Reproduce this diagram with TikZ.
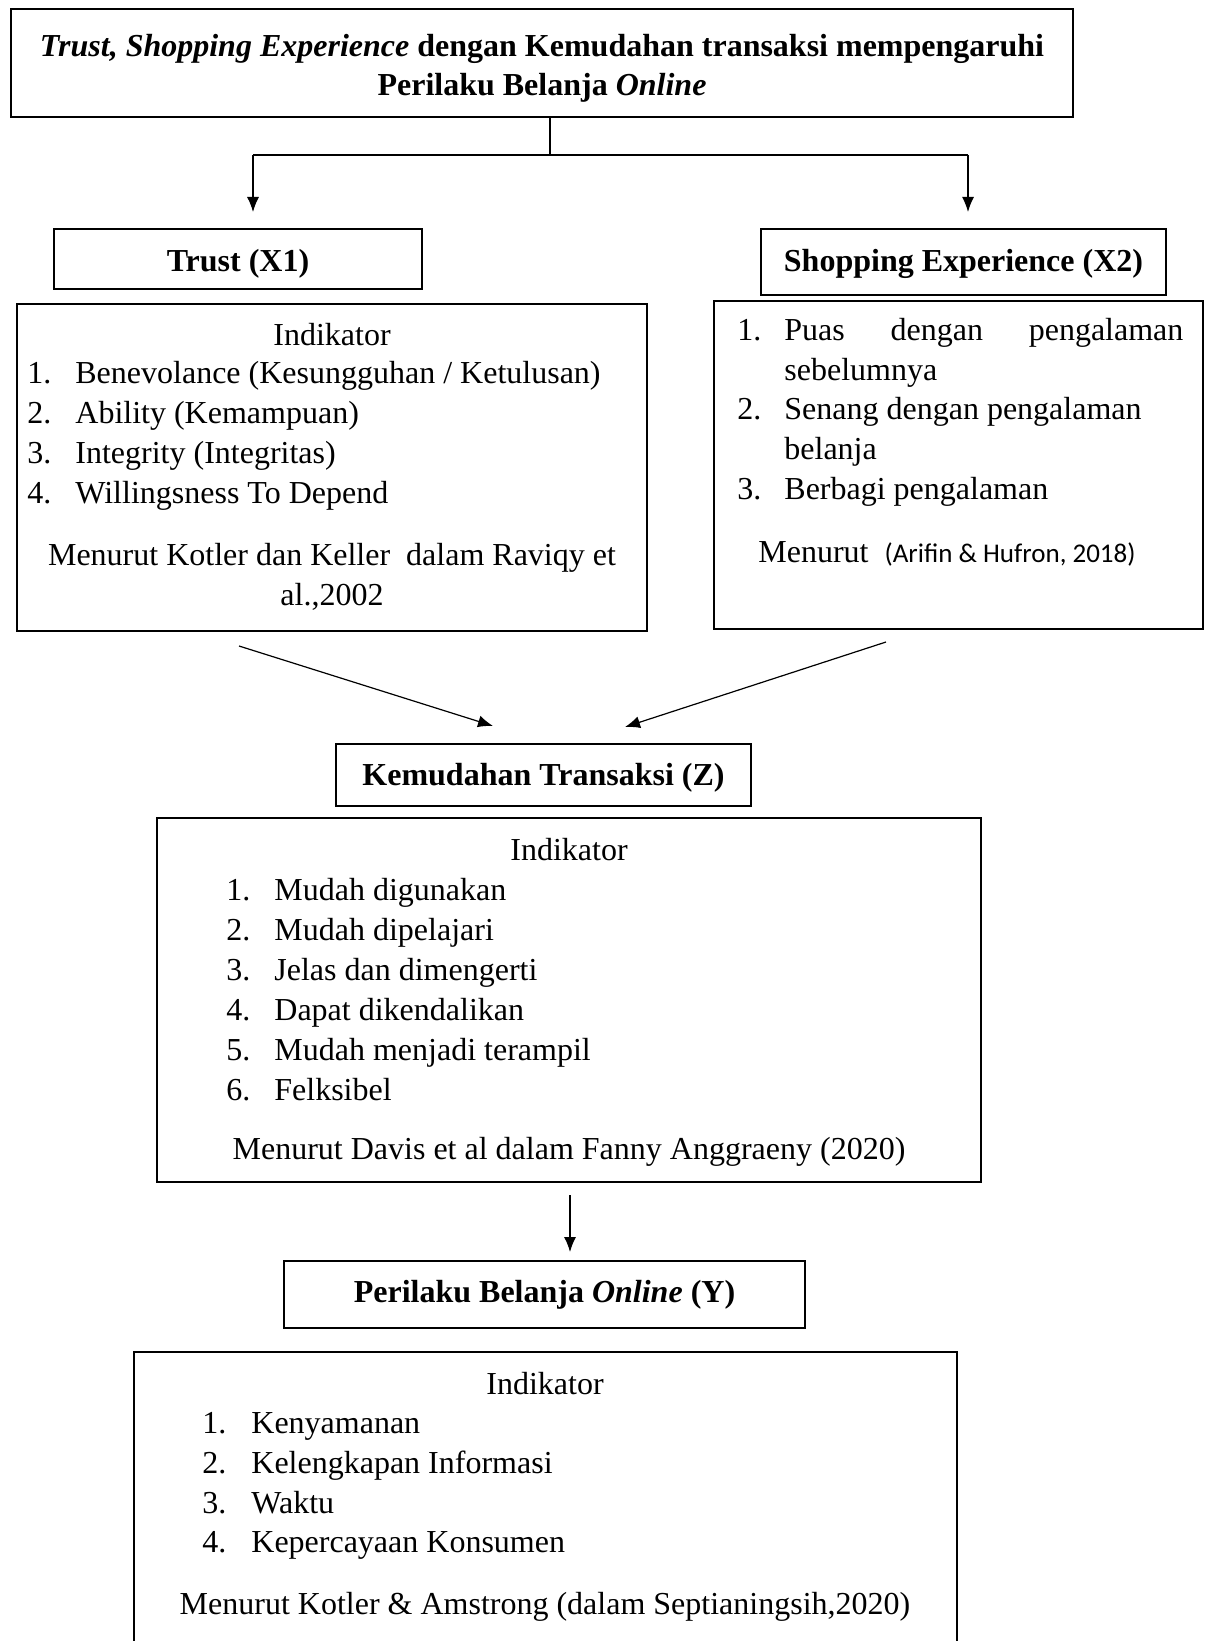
\documentclass[tikz,border=0pt]{standalone}
\usepackage{fontspec}
\setmainfont{Liberation Serif}
\newfontfamily\calibrifont{Carlito}
\usetikzlibrary{arrows.meta}
\begin{document}
\begin{tikzpicture}[x=0.5pt,y=-0.5pt,
  box/.style={draw,line width=1.1pt,inner sep=0pt,font=\fontsize{16}{21}\selectfont\bfseries},
  lbl/.style={inner sep=0pt,font=\fontsize{16}{19.5}\selectfont\bfseries,align=center},
  conn/.style={line width=0.6pt},
  arr/.style={conn,-{Latex[length=7.5pt,width=6pt]}},
  txt/.style={anchor=base west,inner sep=0pt,font=\fontsize{16}{20}\selectfont},
  ctxt/.style={anchor=base,inner sep=0pt,font=\fontsize{16}{20}\selectfont},
]
\useasboundingbox (0,0) rectangle (1208,1641);

% boxes
\node[box,minimum width=531pt,minimum height=54pt] (title) at (542,63) {};
\node[lbl] (titletext) at (542,68)
  {\textit{Trust, Shopping Experience} dengan Kemudahan transaksi mempengaruhi\\Perilaku Belanja \textit{Online}};
\node[box,minimum width=184pt,minimum height=30pt] (trust) at (238,259) {};
\node[lbl] (trusttext) at (238,264) {Trust (X1)};
\node[box,minimum width=202.5pt,minimum height=33pt] (shop) at (963.5,262) {};
\node[lbl] (shoptext) at (963.5,264) {Shopping Experience (X2)};
\node[box,minimum width=315pt,minimum height=163.5pt] (indx1) at (332,467.5) {};
\node[box,minimum width=244.5pt,minimum height=164pt] (indx2) at (958.5,465) {};
\node[box,minimum width=207.5pt,minimum height=31pt] (kem) at (543.5,775) {};
\node[lbl] (kemtext) at (543.5,778) {Kemudahan Transaksi (Z)};
\node[box,minimum width=412pt,minimum height=182pt] (indz) at (569,1000) {};
\node[box,minimum width=260.5pt,minimum height=33.5pt] (per) at (544.5,1294.5) {};
\node[lbl] (pertext) at (544.5,1294.5) {Perilaku Belanja \textit{Online} (Y)};
\draw[line width=1.1pt] (134,1660) -- (134,1352) -- (957,1352) -- (957,1660);

% connectors
\coordinate (split) at (550,155);
\coordinate (sl) at (253,155);
\coordinate (sr) at (968,155);
\coordinate (tl) at (253,212);
\coordinate (tr) at (968,212);
\draw[conn] (title.south -| split) -- (split);
\draw[conn] (sl) -- (sr);
\draw[arr] (sl) -- (tl);
\draw[arr] (sr) -- (tr);
\coordinate (a1) at (239,646);
\coordinate (a1e) at (493,726);
\coordinate (a2) at (886,642);
\coordinate (a2e) at (625,727);
\draw[arr] (a1) -- (a1e);
\draw[arr] (a2) -- (a2e);
\coordinate (b1) at (570,1195);
\coordinate (b1e) at (570,1252);
\draw[arr] (b1) -- (b1e);

% X1 indicators
\node[ctxt] (x1h) at (332,346) {Indikator};
\node[txt] (x1n1) at (27,384) {1.};
\node[txt] (x1t1) at (75,384) {Benevolance (Kesungguhan / Ketulusan)};
\node[txt] (x1n2) at (27,424) {2.};
\node[txt] (x1t2) at (75,424) {Ability (Kemampuan)};
\node[txt] (x1n3) at (27,464) {3.};
\node[txt] (x1t3) at (75,464) {Integrity (Integritas)};
\node[txt] (x1n4) at (27,504) {4.};
\node[txt] (x1t4) at (75,504) {Willingsness To Depend};
\node[ctxt] (x1s1) at (332,565) {Menurut Kotler dan Keller\ \ dalam Raviqy et};
\node[ctxt] (x1s2) at (332,605) {al.,2002};

% X2 indicators
\node[txt] (x2n1) at (737,341) {1.};
\node[txt] (x2t1) at (784,341) {\makebox[199.5pt][s]{Puas dengan pengalaman}};
\node[txt] (x2t1b) at (784,381) {sebelumnya};
\node[txt] (x2n2) at (737,420) {2.};
\node[txt] (x2t2) at (784,420) {Senang dengan pengalaman};
\node[txt] (x2t2b) at (784,460) {belanja};
\node[txt] (x2n3) at (737,500) {3.};
\node[txt] (x2t3) at (784,500) {Berbagi pengalaman};
\node[txt] (x2s) at (758,562) {Menurut\ \ {\calibrifont\fontsize{13.5}{16}\selectfont(Arifin \& Hufron, 2018)}};

% Z indicators
\node[ctxt] (zh) at (569,860) {Indikator};
\node[txt] (zn1) at (226,900) {1.};
\node[txt] (zt1) at (274,900) {Mudah digunakan};
\node[txt] (zn2) at (226,940) {2.};
\node[txt] (zt2) at (274,940) {Mudah dipelajari};
\node[txt] (zn3) at (226,980) {3.};
\node[txt] (zt3) at (274,980) {Jelas dan dimengerti};
\node[txt] (zn4) at (226,1020) {4.};
\node[txt] (zt4) at (274,1020) {Dapat dikendalikan};
\node[txt] (zn5) at (226,1060) {5.};
\node[txt] (zt5) at (274,1060) {Mudah menjadi terampil};
\node[txt] (zn6) at (226,1100) {6.};
\node[txt] (zt6) at (274,1100) {Felksibel};
\node[ctxt] (zs) at (569,1159) {Menurut Davis et al dalam Fanny Anggraeny (2020)};

% Y indicators
\node[ctxt] (yh) at (545,1394) {Indikator};
\node[txt] (yn1) at (202,1433) {1.};
\node[txt] (yt1) at (251,1433) {Kenyamanan};
\node[txt] (yn2) at (202,1473) {2.};
\node[txt] (yt2) at (251,1473) {Kelengkapan Informasi};
\node[txt] (yn3) at (202,1513) {3.};
\node[txt] (yt3) at (251,1513) {Waktu};
\node[txt] (yn4) at (202,1552) {4.};
\node[txt] (yt4) at (251,1552) {Kepercayaan Konsumen};
\node[ctxt] (ys) at (545,1614) {Menurut Kotler \& Amstrong (dalam Septianingsih,2020)};
\end{tikzpicture}
\end{document}
